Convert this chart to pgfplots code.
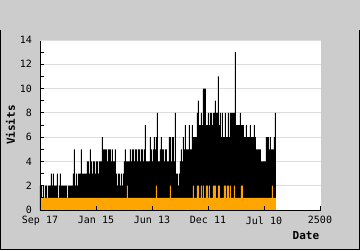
\documentclass[border=0pt]{standalone}
\usepackage{pgfplots}
\pgfplotsset{compat=1.18}
\usepackage{fontspec}
\setmainfont{DejaVu Sans Mono}
\definecolor{bgc}{HTML}{CCCCCC}
\definecolor{gridc}{HTML}{DDDDDD}
\definecolor{orng}{HTML}{FFA500}
\begin{document}
\begin{tikzpicture}
\fill[bgc] (-40pt,-40pt) rectangle (320pt,210pt);
\fill[white] (0pt,0pt) rectangle (281pt,170pt);
\foreach \k in {1,...,7} \draw[gridc, line width=0.8pt] (0pt,{\k*340/14*1pt}) -- (281pt,{\k*340/14*1pt});
\begin{axis}[
  at={(0pt,0pt)}, anchor=south west,
  scale only axis, width=281pt, height=170pt,
  xmin=0, xmax=281, ymin=0, ymax=14,
  axis lines=left, axis line style={-, line width=0.8pt},
  tick align=inside, major tick length=4pt, minor tick length=4pt,
  tick style={black, line width=0.8pt},
  ytick={0,2,...,14}, yticklabels={0,2,4,6,8,10,12,14},
  minor ytick={1,3,...,13},
  xtick={0,56,112,168,224,280},
  xticklabels={Sep 17,Jan 15,Jun 13,Dec 11,Jul 10,2500},
  ticklabel style={font=\fontsize{10}{12}\selectfont},
  yticklabel style={xshift=-4.5pt},
  xticklabel style={yshift=-3pt},
  xlabel={Date}, ylabel={Visits},
  label style={font=\bfseries\fontsize{11}{13}\selectfont},
  xlabel style={at={(axis description cs:1.006,-0.153)}, anchor=east},
  ylabel style={at={(axis description cs:-0.105,0.5)}, anchor=center, rotate=0},
  axis on top,
]
\addplot[const plot, fill=black, draw=none] coordinates {
(0,2)(1,2)(2,1)(3,2)(4,1)(5,2)(6,2)(7,1)(8,2)(9,2)(10,2)(11,3)(12,2)(13,3)(14,2)(15,2)(16,2)(17,3)(18,1)(19,2)(20,3)(21,2)(22,2)(23,2)(24,2)(25,2)(26,2)(27,1)(28,2)(29,2)(30,2)(31,2)
(32,2)(33,3)(34,5)(35,2)(36,3)(37,2)
(38,3)(39,3)(40,3)(41,5)(42,3)(43,3)(44,3)(45,3)(46,3)(47,4)(48,4)(49,3)(50,5)(51,4)(52,3)(53,4)(54,4)(55,3)(56,4)(57,4)(58,3)(59,4)(60,4)(61,4)(62,6)
(63,5)(64,5)(65,5)(66,5)(67,4)(68,5)(69,5)(70,5)(71,4)(72,5)(73,4)
(74,4)(75,5)(76,3)(77,2)(78,3)(79,3)(80,2)(81,3)(82,2)(83,3)
(84,4)(85,5)(86,4)(87,4)(88,4)(89,4)
(90,5)(91,4)(92,5)(93,5)(94,4)(95,5)(96,5)(97,4)(98,5)(99,5)(100,4)(101,5)(102,5)(103,4)(104,5)
(105,7)(106,4)(107,4)(108,4)(109,4)(110,6)(111,5)(112,4)(113,5)(114,6)(115,5)(116,6)
(117,8)(118,4)(119,4)
(120,5)(121,6)(122,5)(123,5)(124,4)(125,5)(126,5)(127,4)
(128,4)(129,6)(130,6)(131,4)(132,6)(133,6)
(134,4)(135,8)(136,3)(137,3)(138,2)(139,3)
(140,4)(141,5)(142,4)(143,6)(144,5)(145,7)
(146,5)(147,5)(148,5)(149,7)(150,5)(151,5)(152,7)
(153,6)(154,6)(155,6)(156,6)
(157,8)(158,9)
(159,7)(160,7)(161,8)(162,7)
(163,10)(164,10)(165,10)(166,7)(167,7)(168,8)(169,7)
(170,8)(171,8)(172,7)(173,8)(174,8)
(175,9)(176,8)(177,8)(178,11)(179,7)(180,8)(181,6)
(182,8)(183,6)(184,6)(185,8)(186,6)(187,6)(188,8)(189,6)
(190,8)(191,8)(192,8)(193,8)(194,8)(195,13)
(196,7)(197,7)(198,7)(199,7)(200,8)(201,7)(202,7)(203,7)(204,6)
(205,6)(206,7)(207,6)(208,6)(209,6)(210,7)(211,6)(212,6)(213,6)(214,7)(215,6)
(216,5)(217,5)(218,5)(219,5)(220,5)
(221,4)(222,4)(223,4)(224,4)(225,4)
(226,6)(227,6)(228,6)
(229,5)(230,6)(231,5)
(232,5)(233,5)(234,6)
(235,8)(236,8)
} \closedcycle;
\addplot[const plot, fill=orng, draw=none] coordinates {
(0,1)(87,2)(88,1)(116,2)(117,1)(130,2)(131,1)(153,2)(154,1)(157,2)(159,1)(161,2)(162,1)(163,2)(164,1)(166,2)(168,1)(169,2)(170,1)(173,2)(176,1)(178,2)(180,1)(184,2)(186,1)(187,2)(189,1)(190,2)(191,1)(194,2)(195,1)(201,2)(203,1)(232,2)(233,1)(236,1)
} \closedcycle;
\end{axis}
\draw[gridc, line width=0.8pt] (0pt,170pt) -- (281pt,170pt);
\draw[black, line width=0.8pt] (-39.6pt,180pt) -- (-39.6pt,-39.6pt) -- (319.6pt,-39.6pt) -- (319.6pt,180pt);
\pgfresetboundingbox
\path[use as bounding box] (-40pt,-40pt) rectangle (320pt,210pt);
\end{tikzpicture}
\end{document}
